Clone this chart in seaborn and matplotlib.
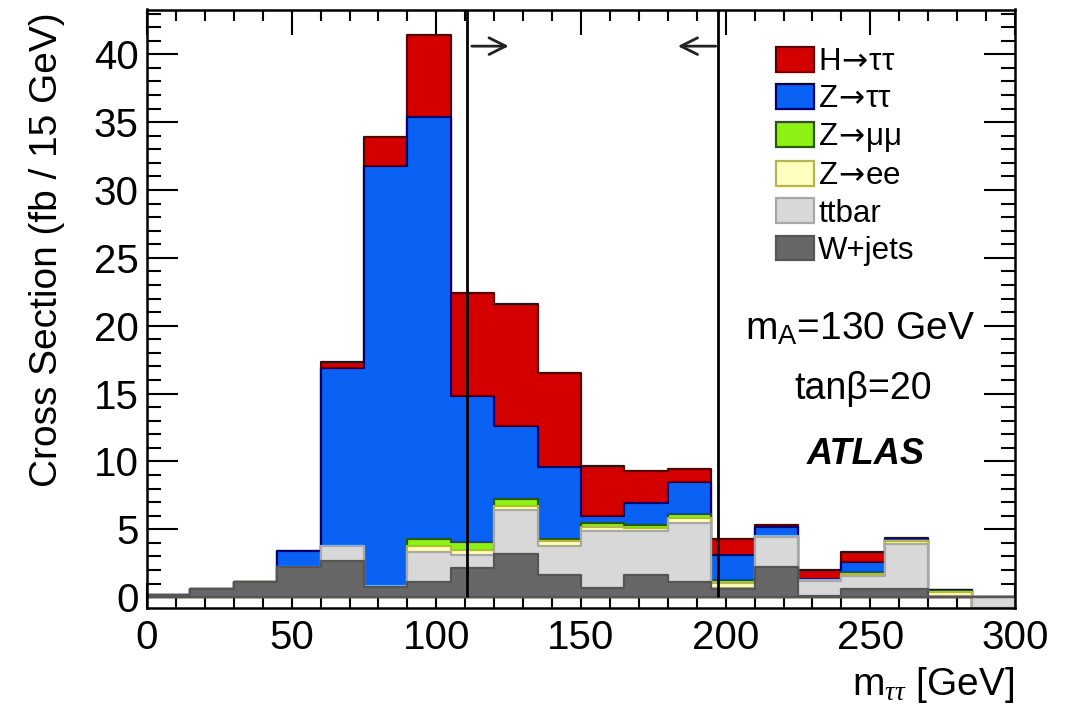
import numpy as np
import pandas as pd
import matplotlib
matplotlib.use("Agg")
import matplotlib.pyplot as plt
from matplotlib.patches import Patch
from matplotlib.ticker import MultipleLocator
import seaborn as sns

# ---------------- data (fb / 15 GeV per bin, 0-300 GeV) ----------------
bin_edges = [0, 15, 30, 45, 60, 75, 90, 105, 120, 135, 150, 165, 180,
             195, 210, 225, 240, 255, 270, 285, 300]
w_jets   = [0.15, 0.60, 1.15, 2.25, 2.65, 0.78, 1.15, 2.15, 3.20, 1.60,
            0.70, 1.60, 1.15, 0.60, 2.20, 0.10, 0.60, 0.60, 0.00, 0.00]
ttbar    = [0.00, 0.00, 0.00, 0.00, 1.10, 0.00, 2.15, 0.95, 3.20, 2.20,
            4.20, 3.30, 4.35, 0.10, 2.24, 1.10, 0.98, 3.30, 0.10, -0.80]
z_ee     = [0.00, 0.00, 0.00, 0.00, 0.00, 0.02, 0.50, 0.40, 0.35, 0.30,
            0.30, 0.20, 0.35, 0.35, 0.03, 0.05, 0.14, 0.20, 0.30, 0.00]
z_mumu   = [0.00, 0.00, 0.00, 0.00, 0.00, 0.05, 0.45, 0.55, 0.45, 0.20,
            0.25, 0.20, 0.30, 0.22, 0.03, 0.05, 0.11, 0.10, 0.08, 0.00]
z_tautau = [0.00, 0.00, 0.00, 1.15, 13.15, 30.95, 31.15, 10.75, 5.40, 5.30,
            0.55, 1.65, 2.35, 1.85, 0.70, 0.04, 0.73, 0.05, 0.02, 0.00]
h_tautau = [0.00, 0.00, 0.00, 0.00, 0.40, 2.10, 6.00, 7.60, 9.00, 6.90,
            3.70, 2.35, 0.95, 1.15, 0.12, 0.66, 0.74, 0.10, 0.04, 0.00]

labels = [r"H$\!\rightarrow\!$ττ", r"Z$\!\rightarrow\!$ττ",
          r"Z$\!\rightarrow\!$μμ", r"Z$\!\rightarrow\!$ee",
          "ttbar", "W+jets"]
cut_low, cut_high = 110.5, 197.5

# ---------------- style ----------------
sns.set_style("ticks")
plt.rcParams["font.family"] = ["Liberation Sans", "DejaVu Sans"]
plt.rcParams["mathtext.fontset"] = "custom"
plt.rcParams["mathtext.rm"] = "Liberation Sans"
plt.rcParams["mathtext.it"] = "Liberation Serif:italic"
plt.rcParams["mathtext.sf"] = "Liberation Sans"
for key in ["text.color", "axes.labelcolor", "xtick.color", "ytick.color",
            "axes.edgecolor"]:
    plt.rcParams[key] = "black"

faces = ["#d40000", "#0a62f5", "#8ff014", "#ffffc0", "#d8d8d8", "#676767"]
edges_c = ["#5a0000", "#000070", "#2a5a00", "#b5b550", "#a8a8a8", "#555555"]

fig = plt.figure(figsize=(10.65, 7.08), dpi=100)
ax = fig.add_axes([147 / 1065, 100 / 708, 868 / 1065, 598.5 / 708])

centers = [(a + b) / 2 for a, b in zip(bin_edges[:-1], bin_edges[1:])]

# stack from the bottom: W+jets, ttbar, Z->ee, Z->mumu, Z->tautau, H->tautau
stack_bottom_up = [w_jets, ttbar, z_ee, z_mumu, z_tautau, h_tautau]
cums = np.cumsum(np.array(stack_bottom_up, dtype=float), axis=0)
cum_top_down = cums[::-1]  # H total first

for i, (lab, cum) in enumerate(zip(labels, cum_top_down)):
    df = pd.DataFrame({"m": centers, "xs": cum})
    sns.histplot(data=df, x="m", weights="xs", bins=bin_edges, element="step",
                 fill=True, color=faces[i], edgecolor=edges_c[i], alpha=1,
                 linewidth=1.6, ax=ax, zorder=2 + i)

# cut lines and arrows
ax.vlines([cut_low, cut_high], 0, 43.3, colors="black", lw=2, zorder=20)
ax.annotate("", xy=(126, 40.6), xytext=(cut_low + 0.8, 40.6),
            arrowprops=dict(arrowstyle="->", lw=2, color="#222222",
                            mutation_scale=30), zorder=21)
ax.annotate("", xy=(182.5, 40.6), xytext=(cut_high, 40.6),
            arrowprops=dict(arrowstyle="->", lw=2, color="#222222",
                            mutation_scale=30), zorder=21)

# axes
ax.set_xlim(0, 300)
ax.set_ylim(-0.8, 43.3)
ax.xaxis.set_major_locator(MultipleLocator(50))
ax.xaxis.set_minor_locator(MultipleLocator(10))
ax.yaxis.set_major_locator(MultipleLocator(5))
ax.yaxis.set_minor_locator(MultipleLocator(1))
ax.tick_params(axis="both", which="both", direction="in", top=True,
               right=True, colors="black", width=1.5)
ax.tick_params(axis="x", which="major", length=18, labelsize=29, pad=8)
ax.tick_params(axis="x", which="minor", length=8)
ax.tick_params(axis="y", which="major", length=22, labelsize=29, pad=6)
ax.tick_params(axis="y", which="minor", length=10)
for sp in ax.spines.values():
    sp.set_linewidth(1.8)
    sp.set_color("black")
    sp.set_zorder(30)

ax.set_ylabel("Cross Section (fb / 15 GeV)", fontsize=28, loc="top",
              color="black")
ax.yaxis.set_label_coords(-0.115, 0.995)
ax.yaxis.label.set_va("center")
ax.set_xlabel(r"m$_{\tau\tau}$ [GeV]", fontsize=28, loc="right",
              color="black")
ax.xaxis.set_label_coords(1.0, -0.128)
ax.xaxis.label.set_va("center")

# legend
handles = [Patch(facecolor=f, edgecolor=e, lw=1.6) for f, e in zip(faces, edges_c)]
leg = ax.legend(handles, labels, loc="upper left",
                bbox_to_anchor=(776 / 1065, 1 - 47 / 708),
                bbox_transform=fig.transFigure, frameon=False, fontsize=22.5,
                handlelength=1.2, handleheight=0.85, labelspacing=0.22,
                handletextpad=0.15, borderpad=0, borderaxespad=0)
for t in leg.get_texts():
    t.set_color("black")
    t.set_math_fontfamily("dejavusans")

# annotations
fig.text(860 / 1065, 1 - 329 / 708, r"m$_\mathrm{A}$=130 GeV", fontsize=28,
         ha="center", va="center", color="black")
fig.text(863 / 1065, 1 - 389 / 708, "tanβ=20", fontsize=27,
         ha="center", va="center", color="black")
fig.text(866 / 1065, 1 - 455 / 708, "ATLAS", fontsize=26, fontweight="bold",
         fontstyle="italic", ha="center", va="center", color="black")

fig.savefig("out.png", dpi=100, facecolor="white")
